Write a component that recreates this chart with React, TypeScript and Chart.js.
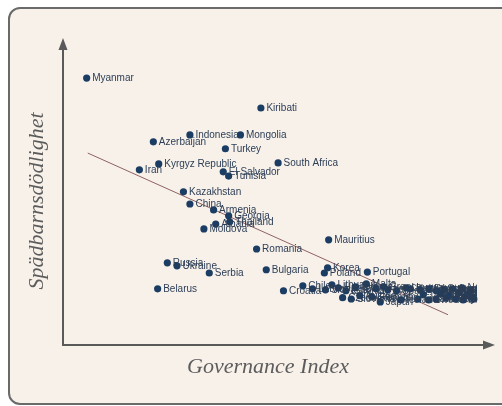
import React, { useEffect, useRef } from "react";
import { Chart, registerables } from "chart.js";

Chart.register(...registerables);

const countries = [
  "Myanmar", "Kiribati", "Indonesia", "Mongolia", "Azerbaijan", "Turkey",
  "Kyrgyz Republic", "South Africa", "Iran", "El Salvador", "Tunisia",
  "Kazakhstan", "China", "Armenia", "Georgia", "Albania", "Thailand",
  "Moldova", "Mauritius", "Romania", "Russia", "Ukraine", "Serbia",
  "Bulgaria", "Belarus", "Croatia", "Korea", "Poland", "Portugal",
  "Chile", "Latvia", "Slovakia", "Lithuania", "Hungary", "Czech Republic",
  "Estonia", "Slovenia", "Cyprus", "Austria", "Malta", "Germany",
  "Israel", "Japan", "Greece", "Italy", "Spain", "Iceland", "United States",
  "Finland", "United Kingdom", "France", "Sweden", "Belgium", "Norway",
  "Ireland", "Denmark", "Australia", "Netherlands", "New Zealand",
  "Switzerland", "Hong Kong", "Canada", "Luxembourg", "Singapore",
  "Taiwan", "Uruguay", "Barbados", "Liechtenstein", "Macao", "Andorra",
];

const governance = [
  -1.53, 0.09, -0.57, -0.10, -0.91, -0.24,
  -0.86, 0.25, -1.04, -0.26, -0.21,
  -0.63, -0.57, -0.35, -0.21, -0.33, -0.20,
  -0.44, 0.72, 0.05, -0.78, -0.69, -0.39,
  0.14, -0.87, 0.30, 0.71, 0.68, 1.08,
  0.48, 0.57, 0.69, 0.75, 0.81, 0.85,
  0.88, 0.93, 0.97, 1.01, 1.07, 1.12,
  1.16, 1.20, 1.23, 1.27, 1.35, 1.39, 1.48,
  1.55, 1.57, 1.65, 1.65, 1.72, 1.72,
  1.79, 1.81, 1.87, 1.90, 1.96,
  1.97, 2.00, 2.04, 2.04, 2.07,
  1.60, 1.44, 1.76, 1.93, 1.84, 2.01,
];

const infantMortality = [
  70.0, 60.9, 52.7, 52.7, 50.6, 48.5,
  43.9, 44.2, 42.1, 41.5, 40.2,
  35.4, 31.7, 29.9, 28.1, 25.6, 26.3,
  24.1, 20.8, 18.0, 13.8, 12.9, 10.7,
  11.7, 5.9, 5.3, 12.3, 10.7, 11.0,
  6.8, 5.9, 5.6, 7.1, 6.2, 3.2,
  5.3, 2.8, 6.5, 3.8, 7.4, 3.5,
  5.9, 1.9, 6.5, 5.6, 5.3, 2.5, 5.9,
  2.8, 5.6, 5.9, 2.5, 5.3, 2.8,
  5.6, 3.2, 5.9, 2.8, 6.2,
  2.5, 3.8, 5.6, 3.5, 2.8,
  4.1, 6.2, 4.4, 4.7, 3.8, 4.1,
];

const trendX = [-1.52, 1.83];
const trendY = [47.2, -2.0];

const xTitle = "Governance Index";
const yTitle = "Spädbarnsdödlighet";

const labelPlugin = {
  id: "pointLabels",
  afterDatasetsDraw(chart: any) {
    const meta = chart.getDatasetMeta(0);
    const ctx = chart.ctx;
    const a = chart.chartArea;
    ctx.save();
    ctx.beginPath();
    ctx.rect(a.left, a.top - 20, a.right - a.left + 1, a.bottom - a.top + 20);
    ctx.clip();
    ctx.font = '10px "Liberation Sans", Arial, sans-serif';
    ctx.fillStyle = "#2c3e56";
    ctx.textBaseline = "middle";
    ctx.textAlign = "left";
    meta.data.forEach((pt: any, i: number) => {
      ctx.fillText(countries[i], pt.x + 5.5, pt.y + 0.5);
    });
    ctx.restore();
  },
};

const axesPlugin = {
  id: "arrowAxes",
  afterDraw(chart: any) {
    const ctx = chart.ctx;
    const a = chart.chartArea;
    const x0 = a.left;
    const y0 = a.bottom;
    const topTip = a.top;
    const rightTip = a.right + 19;
    ctx.save();
    ctx.strokeStyle = "#5a5a5a";
    ctx.fillStyle = "#5a5a5a";
    ctx.lineWidth = 2;
    ctx.beginPath();
    ctx.moveTo(x0, y0);
    ctx.lineTo(x0, topTip + 10);
    ctx.moveTo(x0 - 1, y0);
    ctx.lineTo(rightTip - 10, y0);
    ctx.stroke();
    ctx.beginPath();
    ctx.moveTo(x0, topTip);
    ctx.lineTo(x0 - 4.5, topTip + 12);
    ctx.lineTo(x0 + 4.5, topTip + 12);
    ctx.closePath();
    ctx.fill();
    ctx.beginPath();
    ctx.moveTo(rightTip, y0);
    ctx.lineTo(rightTip - 12, y0 - 4.5);
    ctx.lineTo(rightTip - 12, y0 + 4.5);
    ctx.closePath();
    ctx.fill();

    ctx.fillStyle = "#5c5c5c";
    ctx.font = 'italic 22px "Liberation Serif", "DejaVu Serif", serif';
    ctx.textAlign = "center";
    ctx.textBaseline = "middle";
    ctx.fillText(xTitle, 258, y0 + 22);
    ctx.save();
    ctx.translate(27, 192);
    ctx.rotate(-Math.PI / 2);
    ctx.fillText(yTitle, 0, 0);
    ctx.restore();
    ctx.restore();
  },
};

export default function App() {
  const ref = useRef<HTMLCanvasElement | null>(null);

  useEffect(() => {
    if (!ref.current) return;
    const points = governance.map((g, i) => ({ x: g, y: infantMortality[i] }));
    const trend = trendX.map((x, i) => ({ x, y: trendY[i] }));
    const chart = new Chart(ref.current, {
      type: "scatter",
      data: {
        datasets: [
          {
            label: "Länder",
            data: points,
            pointRadius: 3.6,
            pointHoverRadius: 3.6,
            backgroundColor: "#1c3d63",
            borderWidth: 0,
            clip: false as any,
          },
          {
            type: "line" as any,
            label: "Trend",
            data: trend,
            borderColor: "#8e6262",
            borderWidth: 1,
            pointRadius: 0,
            fill: false,
          },
        ],
      },
      options: {
        responsive: false,
        animation: false,
        layout: { padding: { left: 53, right: 26, top: 29, bottom: 54 } },
        plugins: {
          legend: { display: false },
          tooltip: { enabled: false },
        },
        scales: {
          x: { type: "linear", min: -1.75, max: 2.09, display: false },
          y: { type: "linear", min: -11.2, max: 82.2, display: false },
        },
      },
      plugins: [labelPlugin, axesPlugin],
    });
    return () => chart.destroy();
  }, []);

  return (
    <div
      style={{
        position: "fixed",
        left: 0,
        top: 0,
        width: 502,
        height: 406,
        overflow: "hidden",
        background: "#ffffff",
      }}
    >
      <div
        style={{
          position: "absolute",
          left: 8,
          top: 7,
          width: 540,
          height: 398,
          boxSizing: "border-box",
          border: "2px solid #6a6a6a",
          borderRadius: 12,
          background: "#f8f1ea",
        }}
      >
        <canvas
          ref={ref}
          width={492}
          height={390}
          style={{ display: "block", width: 492, height: 390 }}
        />
      </div>
    </div>
  );
}
